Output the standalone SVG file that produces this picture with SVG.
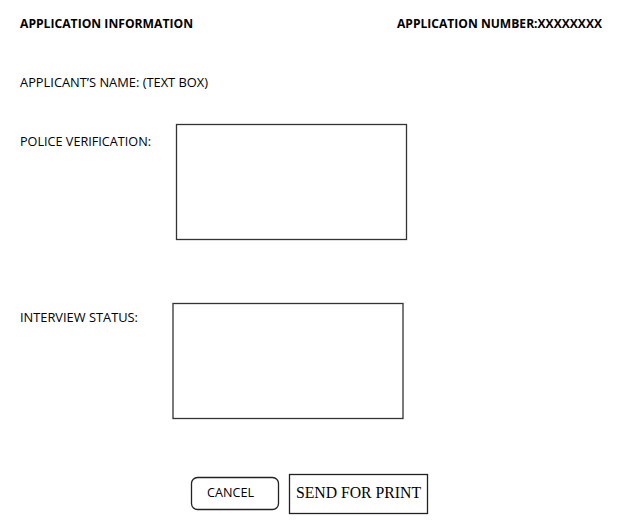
<svg xmlns="http://www.w3.org/2000/svg" width="634" height="524" viewBox="0 0 634 524">
<style>
.lbl{font-family:"Open Sans","Liberation Sans",sans-serif;font-size:12px;fill:#000}
.b{font-weight:bold}
.box{fill:#fff;stroke:#333;stroke-width:1.3}
.btn{fill:#fff;stroke:#222;stroke-width:1.3}
.serif{font-family:"Liberation Serif","Times New Roman",serif;font-size:16px;fill:#000}
</style>
<rect width="634" height="524" fill="#fff"/>
<g id="header">
<text class="lbl b" x="20" y="28" textLength="173" lengthAdjust="spacingAndGlyphs">APPLICATION INFORMATION</text>
<text class="lbl b" x="397" y="28" textLength="205" lengthAdjust="spacingAndGlyphs">APPLICATION NUMBER:XXXXXXXX</text>
</g>
<g id="applicant-name">
<text class="lbl" x="20" y="87" textLength="188" lengthAdjust="spacingAndGlyphs">APPLICANT’S NAME: (TEXT BOX)</text>
</g>
<g id="police-verification">
<text class="lbl" x="20" y="146" textLength="131" lengthAdjust="spacingAndGlyphs">POLICE VERIFICATION:</text>
<rect class="box" x="176.5" y="124.5" width="230" height="115"/>
</g>
<g id="interview-status">
<text class="lbl" x="20" y="322" textLength="118" lengthAdjust="spacingAndGlyphs">INTERVIEW STATUS:</text>
<rect class="box" x="173" y="303.5" width="230" height="115"/>
</g>
<g id="cancel">
<rect class="btn" x="191.5" y="477.5" width="87" height="32" rx="6"/>
<text class="lbl" x="207" y="497" textLength="47" lengthAdjust="spacingAndGlyphs">CANCEL</text>
</g>
<g id="send-for-print">
<rect class="btn" x="289.5" y="474.5" width="138" height="39" stroke-width="1"/>
<text class="serif" x="296" y="498" textLength="125" lengthAdjust="spacingAndGlyphs">SEND FOR PRINT</text>
</g>
<g id="connectors"></g>
</svg>
